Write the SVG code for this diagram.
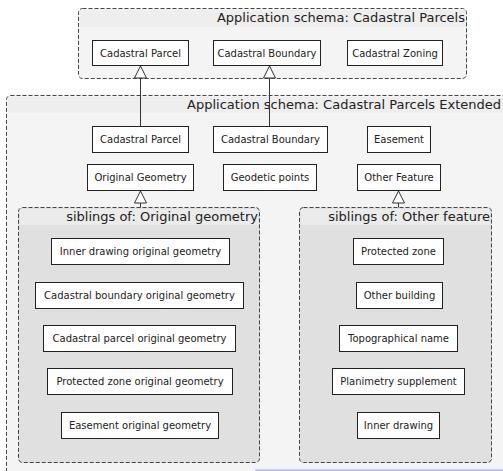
<svg xmlns="http://www.w3.org/2000/svg" width="503" height="471" viewBox="0 0 503 471">
  <style>
    .pkg { fill: #f4f4f4; stroke: #444; stroke-width: 1; stroke-dasharray: 4 2; }
    .pkg-inner { fill: #e0e0e0; stroke: #444; stroke-width: 1; stroke-dasharray: 4 2; }
    .band { fill: #eeeeee; }
    .band-inner { fill: #ebebeb; }
    .cls { fill: #ffffff; stroke: #222; stroke-width: 1; }
    .lbl { font-family: "DejaVu Sans", "Liberation Sans", sans-serif; font-size: 10px; fill: #222; text-anchor: middle; }
    .title { font-family: "DejaVu Sans", "Liberation Sans", sans-serif; font-size: 13px; fill: #222; text-anchor: end; }
    .edge { fill: none; stroke: #333; stroke-width: 1; }
  </style>
  <defs>
    <!-- hollow triangle for generalization, drawn along +x so orient="auto" points it along the path -->
    <marker id="gen" viewBox="0 0 14 14" refX="13" refY="7" markerWidth="14" markerHeight="14" markerUnits="userSpaceOnUse" orient="auto">
      <path d="M13 7 L1 1 L1 13 Z" fill="#fff" stroke="#333" stroke-width="1"/>
    </marker>
  </defs>

  <!-- Application schema: Cadastral Parcels -->
  <g id="pkg-cadastral-parcels">
    <rect class="pkg" x="78.5" y="8.5" width="388" height="70" rx="4"/>
    <path class="band" d="M80 10 H465 V27 H80 Z"/>
    <text class="title" x="465" y="22">Application schema: Cadastral Parcels</text>
  </g>
  <g id="cp-parcel"><rect class="cls" x="92.5" y="40.5" width="96" height="25"/><text class="lbl" x="140.5" y="56.5">Cadastral Parcel</text></g>
  <g id="cp-boundary"><rect class="cls" x="213.5" y="40.5" width="107" height="25"/><text class="lbl" x="267" y="56.5">Cadastral Boundary</text></g>
  <g id="cp-zoning"><rect class="cls" x="347.5" y="40.5" width="95" height="25"/><text class="lbl" x="395" y="56.5">Cadastral Zoning</text></g>

  <!-- Application schema: Cadastral Parcels Extended -->
  <g id="pkg-extended">
    <rect class="pkg" x="6.5" y="95.5" width="510" height="400" rx="4"/>
    <path class="band" d="M8 97 H503 V113 H8 Z"/>
    <text class="title" x="501" y="109">Application schema: Cadastral Parcels Extended</text>
  </g>
  <g id="ext-parcel"><rect class="cls" x="92.5" y="126.5" width="96" height="26"/><text class="lbl" x="140.5" y="143">Cadastral Parcel</text></g>
  <g id="ext-boundary"><rect class="cls" x="213.5" y="126.5" width="114" height="26"/><text class="lbl" x="270.5" y="143">Cadastral Boundary</text></g>
  <g id="ext-easement"><rect class="cls" x="367.5" y="126.5" width="63" height="26"/><text class="lbl" x="399" y="143">Easement</text></g>
  <g id="ext-original-geometry"><rect class="cls" x="87.5" y="164.5" width="106" height="26"/><text class="lbl" x="140.5" y="181">Original Geometry</text></g>
  <g id="ext-geodetic-points"><rect class="cls" x="223.5" y="164.5" width="93" height="26"/><text class="lbl" x="270" y="181">Geodetic points</text></g>
  <g id="ext-other-feature"><rect class="cls" x="357.5" y="164.5" width="83" height="26"/><text class="lbl" x="399" y="181">Other Feature</text></g>

  <!-- siblings of: Original geometry -->
  <g id="pkg-siblings-geometry">
    <rect class="pkg-inner" x="18.5" y="207.5" width="241" height="255" rx="4"/>
    <path class="band-inner" d="M20 209 H258 V225 H20 Z"/>
    <text class="title" x="258" y="221">siblings of: Original geometry</text>
  </g>
  <g id="sg-inner-drawing"><rect class="cls" x="51.5" y="238.5" width="178" height="26"/><text class="lbl" x="140.5" y="255">Inner drawing original geometry</text></g>
  <g id="sg-boundary"><rect class="cls" x="35.5" y="282.5" width="208" height="26"/><text class="lbl" x="139.5" y="299">Cadastral boundary original geometry</text></g>
  <g id="sg-parcel"><rect class="cls" x="43.5" y="325.5" width="192" height="26"/><text class="lbl" x="139.5" y="342">Cadastral parcel original geometry</text></g>
  <g id="sg-protected-zone"><rect class="cls" x="47.5" y="368.5" width="185" height="26"/><text class="lbl" x="140" y="385">Protected zone original geometry</text></g>
  <g id="sg-easement"><rect class="cls" x="61.5" y="412.5" width="157" height="26"/><text class="lbl" x="140" y="429">Easement original geometry</text></g>

  <!-- siblings of: Other feature -->
  <g id="pkg-siblings-feature">
    <rect class="pkg-inner" x="299.5" y="207.5" width="192" height="255" rx="4"/>
    <path class="band-inner" d="M301 209 H490 V225 H301 Z"/>
    <text class="title" x="490" y="221">siblings of: Other feature</text>
  </g>
  <g id="sf-protected-zone"><rect class="cls" x="353.5" y="238.5" width="90" height="26"/><text class="lbl" x="398.5" y="255">Protected zone</text></g>
  <g id="sf-other-building"><rect class="cls" x="356.5" y="282.5" width="86" height="26"/><text class="lbl" x="399.5" y="299">Other building</text></g>
  <g id="sf-topographical-name"><rect class="cls" x="339.5" y="325.5" width="118" height="26"/><text class="lbl" x="398.5" y="342">Topographical name</text></g>
  <g id="sf-planimetry"><rect class="cls" x="332.5" y="368.5" width="132" height="26"/><text class="lbl" x="398.5" y="385">Planimetry supplement</text></g>
  <g id="sf-inner-drawing"><rect class="cls" x="357.5" y="412.5" width="82" height="26"/><text class="lbl" x="398.5" y="429">Inner drawing</text></g>

  <!-- generalization connectors -->
  <g id="connectors">
    <path class="edge" d="M140.5 126.5 V66" marker-end="url(#gen)"/>
    <path class="edge" d="M269.5 126.5 V66" marker-end="url(#gen)"/>
    <path class="edge" d="M140.5 207.5 V191" marker-end="url(#gen)"/>
    <path class="edge" d="M398.5 207.5 V191" marker-end="url(#gen)"/>
  </g>

  <rect x="255" y="469.5" width="248" height="1.5" fill="#b4b4e8"/>
</svg>
